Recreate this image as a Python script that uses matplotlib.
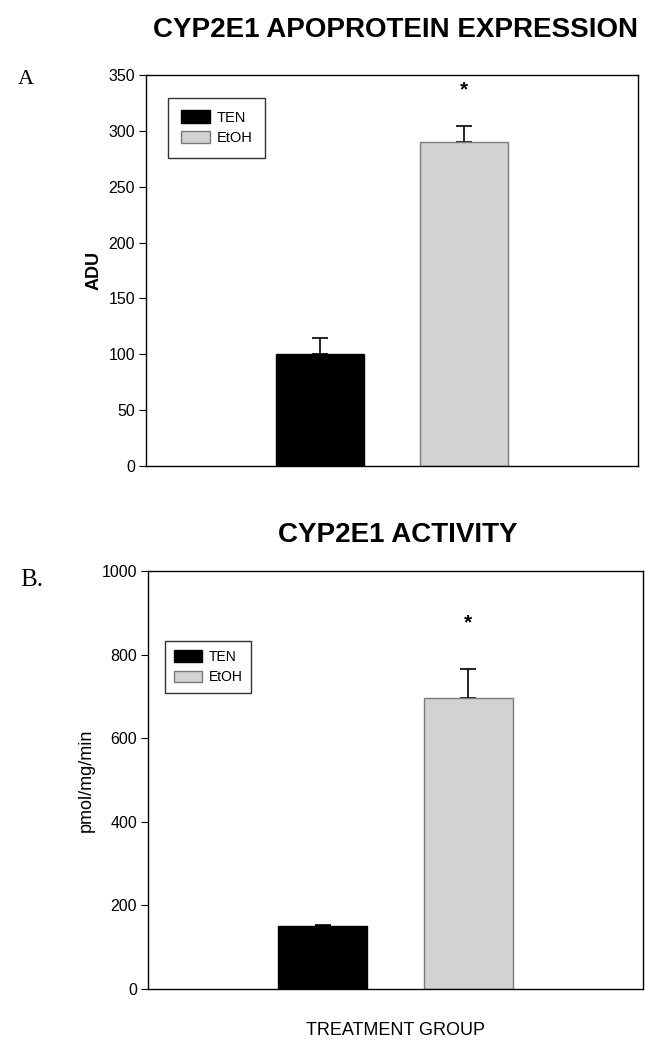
import numpy as np
import matplotlib
matplotlib.use("Agg")
import matplotlib.pyplot as plt
from matplotlib.patches import Patch

plt.rcParams['font.family'] = ['Liberation Sans', 'DejaVu Sans']

groups = ['TEN', 'EtOH']
colors = ['#000000', '#d2d2d2']
edges = ['#000000', '#7a7a7a']

# panel A: apoprotein expression
adu_mean = [100, 290]
adu_err = [15, 14]
adu_star = 337

# panel B: activity
act_mean = [150, 697]
act_err = [3, 69]
act_star = 875

fig = plt.figure(figsize=(6.61, 10.5), dpi=100)
axA = fig.add_axes([0.2209, 0.5562, 0.7443, 0.3724])
axB = fig.add_axes([0.2239, 0.0581, 0.7489, 0.3981])

x = np.arange(len(groups))


def draw_panel(ax, mean, err, star, ymax, step, legend_xy, leg_size, leg_pad):
    ax.bar(x, mean, width=0.61, color=colors, edgecolor=edges, linewidth=1.0, zorder=2)
    ax.errorbar(x, mean, yerr=[np.zeros(len(err)), err], fmt='none', ecolor='black',
                elinewidth=1.2, capsize=6, capthick=1.2, zorder=1)
    ax.text(x[1], star, '*', ha='center', va='center', fontsize=15, fontweight='bold')
    ax.set_xlim(-1.2, 2.2)
    ax.set_ylim(0, ymax)
    ax.set_yticks(np.arange(0, ymax + 1, step))
    ax.set_xticks([])
    ax.tick_params(axis='y', direction='out', length=5, labelsize=11.5, pad=3)
    for s in ax.spines.values():
        s.set_linewidth(1.0)
    handles = [Patch(facecolor=colors[i], edgecolor=edges[i], label=groups[i]) for i in range(2)]
    leg = ax.legend(handles=handles, loc='upper left', bbox_to_anchor=legend_xy,
                    fontsize=leg_size, frameon=True, fancybox=False, edgecolor='black',
                    handlelength=2.0, handleheight=0.9, handletextpad=0.5,
                    borderpad=leg_pad, labelspacing=0.45, borderaxespad=0)
    leg.get_frame().set_linewidth(1.0)


draw_panel(axA, adu_mean, adu_err, adu_star, 350, 50, (0.045, 0.941), 10.5, 0.85)
draw_panel(axB, act_mean, act_err, act_star, 1000, 200, (0.034, 0.833), 10, 0.65)

axA.set_ylabel('ADU', fontsize=13, fontweight='bold', labelpad=4)
axB.set_ylabel('pmol/mg/min', fontsize=13, labelpad=5)
axB.set_xlabel('TREATMENT GROUP', fontsize=13, labelpad=24)

fig.text(0.598, 0.971, 'CYP2E1 APOPROTEIN EXPRESSION', ha='center', va='center',
         fontsize=20, fontweight='bold')
fig.text(0.602, 0.490, 'CYP2E1 ACTIVITY', ha='center', va='center',
         fontsize=20, fontweight='bold')
fig.text(0.027, 0.924, 'A', ha='left', va='center', fontsize=16, family='Liberation Serif')
fig.text(0.030, 0.448, 'B.', ha='left', va='center', fontsize=18, family='Liberation Serif')

fig.savefig('out.png', dpi=100)
